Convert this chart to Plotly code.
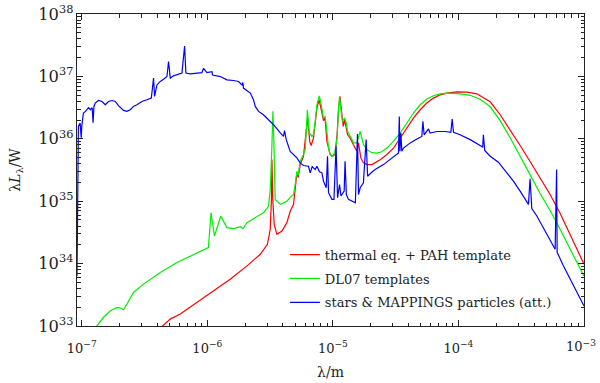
import plotly.graph_objects as go

# ---------------- data (wavelength in m, lambda*L_lambda in W) ----------------
red_lam = [4.22e-7, 5.07e-7, 6.09e-7, 8.27e-7, 1.12e-6, 1.52e-6, 2.07e-6, 2.64e-6, 3.01e-6, 3.17e-6,
           3.24e-6, 3.27e-6, 3.32e-6, 3.41e-6, 3.58e-6, 3.93e-6, 4.30e-6, 4.57e-6, 4.86e-6, 5.06e-6,
           5.17e-6, 5.29e-6, 5.49e-6, 5.83e-6, 6.30e-6, 6.54e-6, 6.72e-6, 7.01e-6, 7.46e-6, 7.78e-6,
           8.18e-6, 8.42e-6, 8.66e-6, 8.96e-6, 9.52e-6, 9.82e-6, 1.04e-5, 1.08e-5, 1.11e-5, 1.14e-5,
           1.18e-5, 1.21e-5, 1.24e-5, 1.31e-5, 1.37e-5, 1.46e-5, 1.55e-5, 1.60e-5, 1.67e-5, 1.75e-5,
           1.87e-5, 2.04e-5, 2.24e-5, 2.40e-5, 2.69e-5, 3.04e-5, 3.44e-5, 3.88e-5, 4.38e-5, 4.96e-5,
           5.60e-5, 6.32e-5, 7.15e-5, 8.09e-5, 9.71e-5, 1.17e-4, 1.40e-4, 1.49e-4, 1.79e-4, 2.15e-4,
           2.58e-4, 3.10e-4, 3.72e-4, 4.47e-4, 5.37e-4, 6.45e-4, 7.75e-4, 1.0e-3]
red_L = [9.3e32, 1.29e33, 1.56e33, 2.39e33, 3.66e33, 5.6e33, 9.2e33, 1.41e34, 2.04e34, 3.54e34,
         1.07e35, 4.65e35, 1.07e35, 4.26e34, 2.95e34, 3.33e34, 4.53e34, 6.9e34, 8.9e34, 1.66e35,
         2.85e35, 2.40e35, 3.86e35, 5.25e35, 2.18e36, 9.0e35, 7.8e35, 1.03e36, 3.11e36, 4.22e36,
         2.75e36, 1.95e36, 2.18e36, 9.1e35, 5.6e35, 5.25e35, 5.6e35, 1.16e36, 3.15e36, 4.77e36,
         2.43e36, 1.58e36, 2.02e36, 1.16e36, 1.03e36, 8.1e35, 6.3e35, 8.6e35, 4.94e35, 4.11e35,
         3.86e35, 3.86e35, 4.37e35, 4.65e35, 5.6e35, 7.1e35, 1.03e36, 1.49e36, 2.15e36, 2.92e36,
         3.74e36, 4.49e36, 5.07e36, 5.4e36, 5.66e36, 5.6e36, 5.26e36, 4.89e36, 3.92e36, 2.43e36,
         1.40e36, 7.8e35, 4.32e35, 2.40e35, 1.28e35, 6.4e34, 2.84e34, 9.8e33]

green_lam = [1.28e-7, 1.49e-7, 1.69e-7, 1.91e-7, 2.03e-7, 2.15e-7, 2.29e-7, 2.58e-7, 3.10e-7, 4.22e-7,
             5.73e-7, 7.77e-7, 1.02e-6, 1.07e-6, 1.14e-6, 1.28e-6, 1.43e-6, 1.62e-6, 1.83e-6, 1.92e-6,
             2.07e-6, 2.33e-6, 2.80e-6, 3.07e-6, 3.17e-6, 3.26e-6, 3.33e-6, 3.40e-6, 3.47e-6, 3.81e-6,
             4.30e-6, 4.57e-6, 4.86e-6, 5.01e-6, 5.17e-6, 5.29e-6, 5.49e-6, 5.83e-6, 6.02e-6, 6.27e-6,
             6.48e-6, 6.81e-6, 7.01e-6, 7.23e-6, 7.46e-6, 7.78e-6, 8.03e-6, 8.42e-6, 8.69e-6, 8.96e-6,
             9.23e-6, 9.52e-6, 1.0e-5, 1.04e-5, 1.08e-5, 1.11e-5, 1.13e-5, 1.16e-5, 1.19e-5, 1.24e-5,
             1.28e-5, 1.31e-5, 1.36e-5, 1.42e-5, 1.46e-5, 1.55e-5, 1.65e-5, 1.70e-5, 1.75e-5, 1.87e-5,
             2.04e-5, 2.24e-5, 2.45e-5, 2.69e-5, 3.04e-5, 3.44e-5, 3.88e-5, 4.38e-5, 4.96e-5, 5.60e-5,
             6.32e-5, 7.15e-5, 8.09e-5, 9.13e-5, 1.03e-4, 1.24e-4, 1.40e-4, 1.49e-4, 1.79e-4, 2.15e-4,
             2.58e-4, 3.10e-4, 3.72e-4, 4.47e-4, 5.37e-4, 6.45e-4, 7.75e-4, 1.0e-3]
green_L = [9.3e32, 1.38e33, 1.75e33, 1.99e33, 1.94e33, 1.82e33, 2.25e33, 3.45e33, 4.69e33, 7.2e33,
           1.04e34, 1.41e34, 1.81e34, 6.5e34, 2.77e34, 5.8e34, 3.77e34, 3.63e34, 3.91e34, 3.63e34,
           4.53e34, 5.25e34, 6.5e34, 8.3e34, 1.54e35, 6.7e35, 2.75e36, 6.7e35, 1.07e35, 8.9e34,
           1.0e35, 1.15e35, 1.28e35, 1.85e35, 3.02e35, 2.58e35, 4.37e35, 5.6e35, 6.7e35, 2.92e36,
           1.25e36, 1.09e36, 1.16e36, 1.90e36, 3.51e36, 4.89e36, 3.74e36, 2.15e36, 2.28e36, 1.31e36,
           7.1e35, 5.6e35, 5.25e35, 6.3e35, 1.03e36, 3.11e36, 4.77e36, 2.92e36, 1.90e36, 2.15e36,
           1.79e36, 1.31e36, 1.16e36, 9.7e35, 8.6e35, 8.6e35, 1.31e36, 9.7e35, 8.1e35, 6.7e35,
           6.0e35, 5.9e35, 6.2e35, 7.1e35, 9.1e35, 1.24e36, 1.79e36, 2.59e36, 3.51e36, 4.33e36,
           4.89e36, 5.26e36, 5.4e36, 5.4e36, 5.26e36, 4.98e36, 4.54e36, 4.30e36, 3.26e36, 1.95e36,
           1.04e36, 5.4e35, 2.67e35, 1.33e35, 7.1e34, 3.54e34, 1.70e34, 6.3e33]

blue_lam = [9.16e-8, 9.3e-8, 9.4e-8, 9.7e-8, 9.9e-8, 1.0e-7, 1.03e-7, 1.07e-7, 1.10e-7, 1.13e-7,
            1.17e-7, 1.21e-7, 1.23e-7, 1.25e-7, 1.28e-7, 1.36e-7, 1.45e-7, 1.54e-7, 1.63e-7, 1.74e-7,
            1.85e-7, 1.96e-7, 2.15e-7, 2.29e-7, 2.43e-7, 2.58e-7, 2.75e-7, 3.01e-7, 3.30e-7, 3.58e-7,
            3.73e-7, 3.80e-7, 3.97e-7, 4.22e-7, 4.48e-7, 4.77e-7, 4.91e-7, 5.07e-7, 5.38e-7, 5.90e-7,
            6.28e-7, 6.59e-7, 6.75e-7, 7.31e-7, 8.01e-7, 9.06e-7, 9.33e-7, 9.93e-7, 1.09e-6, 1.10e-6,
            1.27e-6, 1.43e-6, 1.62e-6, 1.77e-6, 1.89e-6, 1.92e-6, 1.94e-6, 2.20e-6, 2.33e-6, 2.41e-6,
            2.56e-6, 2.80e-6, 3.07e-6, 3.37e-6, 3.81e-6, 4.04e-6, 4.12e-6, 4.25e-6, 4.57e-6, 4.86e-6,
            5.17e-6, 5.49e-6, 5.83e-6, 6.39e-6, 6.60e-6, 6.84e-6, 7.23e-6, 7.46e-6, 7.82e-6, 8.18e-6,
            8.42e-6, 8.85e-6, 9.06e-6, 9.23e-6, 9.82e-6, 1.02e-5, 1.06e-5, 1.09e-5, 1.13e-5, 1.16e-5,
            1.23e-5, 1.25e-5, 1.28e-5, 1.33e-5, 1.42e-5, 1.51e-5, 1.57e-5, 1.60e-5, 1.65e-5, 1.75e-5,
            1.84e-5, 1.89e-5, 2.04e-5, 2.17e-5, 2.53e-5, 2.86e-5, 3.33e-5, 3.38e-5, 3.42e-5, 3.48e-5,
            3.54e-5, 3.65e-5, 4.13e-5, 4.67e-5, 5.11e-5, 5.21e-5, 5.33e-5, 5.77e-5, 5.95e-5, 6.73e-5,
            7.84e-5, 8.70e-5, 8.91e-5, 9.13e-5, 1.03e-4, 1.24e-4, 1.44e-4, 1.56e-4, 1.58e-4, 1.62e-4,
            1.79e-4, 2.08e-4, 2.43e-4, 2.74e-4, 3.10e-4, 3.50e-4, 3.61e-4, 3.72e-4, 3.84e-4, 4.21e-4,
            4.75e-4, 5.37e-4, 5.89e-4, 6.05e-4, 6.11e-4, 6.85e-4, 7.75e-4, 8.77e-4, 1.0e-3]
blue_L = [6.3e33, 1.03e36, 1.58e36, 1.79e36, 1.04e36, 1.58e36, 2.59e36, 2.75e36, 2.92e36, 3.15e36,
          2.92e36, 3.15e36, 1.81e36, 3.30e36, 3.74e36, 4.11e36, 3.96e36, 3.51e36, 3.96e36, 4.11e36,
          3.96e36, 3.39e36, 2.85e36, 2.75e36, 2.92e36, 3.30e36, 3.51e36, 3.96e36, 4.22e36, 4.49e36,
          9.4e36, 4.77e36, 7.3e36, 8.3e36, 9.0e36, 9.95e36, 1.73e37, 9.4e36, 1.02e37, 1.10e37,
          1.13e37, 3.07e37, 1.13e37, 1.10e37, 1.13e37, 1.15e37, 1.35e37, 1.15e37, 1.19e37, 1.05e37,
          9.95e36, 8.8e36, 8.6e36, 8.3e36, 7.3e36, 8.0e36, 6.5e36, 5.4e36, 4.22e36, 3.30e36,
          2.75e36, 2.43e36, 2.02e36, 1.68e36, 1.24e36, 1.09e36, 1.35e36, 9.7e35, 6.3e35, 5.6e35,
          4.94e35, 4.11e35, 3.73e35, 3.63e35, 2.85e35, 3.59e35, 3.21e35, 3.63e35, 2.96e35, 2.85e35,
          2.09e35, 1.64e35, 5.25e35, 1.37e35, 1.07e35, 1.07e35, 7.6e35, 1.14e35, 1.85e35, 1.21e35,
          1.45e35, 4.37e35, 1.28e35, 1.07e35, 1.0e35, 9.4e34, 1.19e36, 1.28e35, 1.64e35, 1.97e35,
          9.7e35, 2.51e35, 2.91e35, 3.21e35, 3.86e35, 4.65e35, 5.94e35, 2.28e36, 6.3e35, 1.24e36,
          6.3e35, 7.1e35, 8.6e35, 9.95e35, 1.09e36, 1.90e36, 1.16e36, 1.44e36, 1.24e36, 1.31e36,
          1.31e36, 1.27e36, 2.08e36, 1.27e36, 1.16e36, 9.7e35, 8.1e35, 7.4e35, 1.16e36, 6.5e35,
          5.25e35, 4.21e35, 2.85e35, 2.09e35, 1.45e35, 1.0e35, 8.9e34, 2.29e35, 7.6e34, 5.8e34,
          3.77e34, 2.45e34, 1.70e34, 3.21e35, 1.52e34, 9.2e33, 5.6e33, 3.45e33, 2.09e33]

series_names = ["thermal eq. + PAH template", "DL07 templates", "stars &amp; MAPPINGS particles (att.)"]
series_colors = ["#ff0000", "#00f000", "#0000ff"]

x_tickvals = [1e-7, 1e-6, 1e-5, 1e-4, 1e-3]
x_ticktext = ["10<sup>−7</sup>", "10<sup>−6</sup>", "10<sup>−5</sup>", "10<sup>−4</sup>", ""]
last_x_label = "10<sup>−3</sup>"
x_minor_vals = [m * d for d in [1e-8, 1e-7, 1e-6, 1e-5, 1e-4] for m in range(2, 10)]

x_range = [-7.038, -3.0]   # log10 of axis limits
y_range = [33.0, 38.0]

FONT = "DejaVu Serif"
TXT = "#222"

fig = go.Figure()
for i, (lam, L) in enumerate([(red_lam, red_L), (green_lam, green_L), (blue_lam, blue_L)]):
    fig.add_trace(go.Scatter(x=lam, y=L, mode="lines", name=series_names[i],
                             legendgroup=f"g{i}",
                             line=dict(color=series_colors[i], width=1.2)))

axis_common = dict(
    type="log",
    ticks="inside", ticklen=6, tickwidth=1, tickcolor=TXT,
    showline=True, linecolor=TXT, linewidth=1, mirror="allticks",
    showgrid=False, zeroline=False, automargin=False,
    tickfont=dict(family=FONT, size=13, color=TXT),
)

fig.update_layout(
    width=600, height=383,
    margin=dict(l=77, r=16, t=14, b=57),
    paper_bgcolor="white", plot_bgcolor="white",
    font=dict(family=FONT, size=13, color=TXT),
    xaxis=dict(range=x_range, tickmode="array", tickvals=x_tickvals, ticktext=x_ticktext, ticklabelstandoff=10,
               minor=dict(ticks="inside", ticklen=3.5, tickcolor=TXT, showgrid=False,
                          tickmode="array", tickvals=x_minor_vals),
               title=dict(text="λ/m", font=dict(family=FONT, size=14), standoff=12), **axis_common),
    yaxis=dict(range=y_range, dtick=1, exponentformat="power", showexponent="all",
               minor=dict(ticks="inside", ticklen=3.5, tickcolor=TXT, showgrid=False),
               title=dict(text="λ<i>L</i><sub>λ</sub>/W", font=dict(family=FONT, size=14), standoff=14),
               **axis_common),
    legend=dict(x=0.41, y=0.277, xanchor="left", yanchor="top", bgcolor="rgba(0,0,0,0)",
                font=dict(family=FONT, size=13, color=TXT), tracegroupgap=4),
    showlegend=True,
)

# label of the last x tick, kept inside the page at the right edge
fig.add_annotation(text=last_x_label, xref="paper", yref="paper",
                   x=1.0275, y=-0.031, xanchor="right", yanchor="top", showarrow=False,
                   font=dict(family=FONT, size=13, color=TXT))

fig.write_html("out.html")
